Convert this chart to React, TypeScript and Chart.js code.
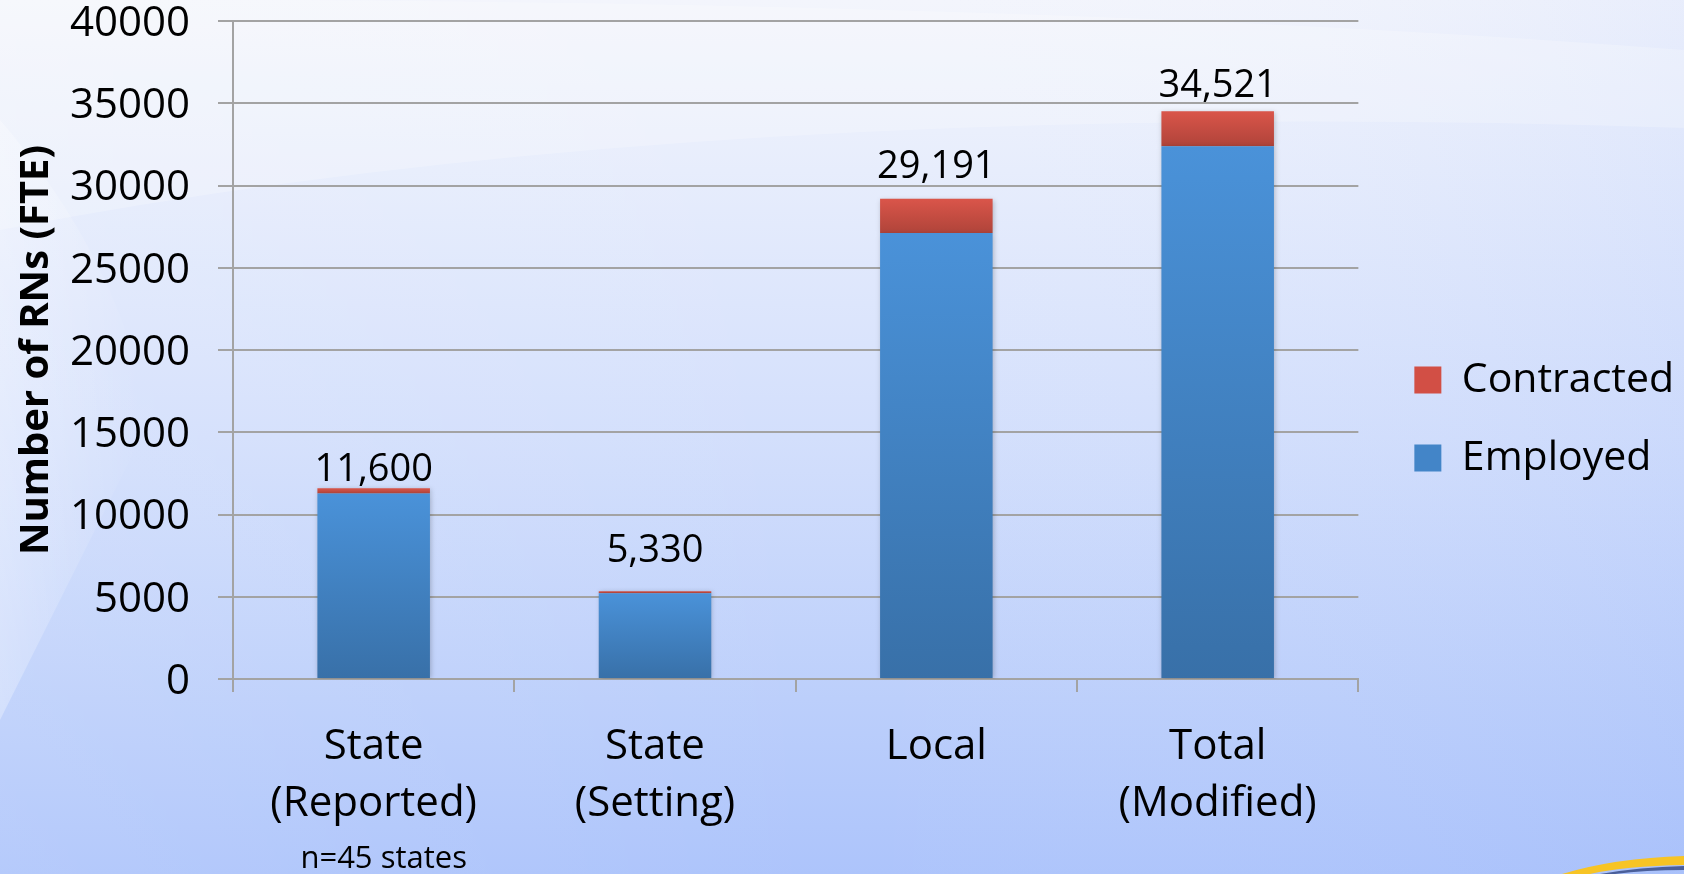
import React, { useEffect, useRef } from 'react';
import { Chart, registerables } from 'chart.js';

Chart.register(...registerables);

const categories: string[][] = [
  ['State', '(Reported)'],
  ['State', '(Setting)'],
  ['Local'],
  ['Total', '(Modified)'],
];
const employed = [11270, 5210, 27120, 32390];
const contracted = [330, 120, 2071, 2131];
const totalLabels = ['11,600', '5,330', '29,191', '34,521'];
const seriesNames = ['Employed', 'Contracted'];
const yMax = 40000;
const yStep = 5000;
const yTitle = 'Number of RNs (FTE)';
const footnote = 'n=45 states';

const W = 1684;
const H = 874;
const FONT = '"Open Sans", "Noto Sans", sans-serif';
const GRID = '#a3a3a3';
const labelGap = [18, 40, 32, 25];

function barGradient(ctx: any, top: string, bottom: string, fallback: string, lo: number[], hi: number[]) {
  const chart = ctx.chart;
  const ys = chart.scales && chart.scales.y;
  if (!chart.chartArea || !ys || ctx.dataIndex === undefined) return fallback;
  const i = ctx.dataIndex;
  const yTop = ys.getPixelForValue(hi[i]);
  const yBot = ys.getPixelForValue(lo[i]);
  if (!isFinite(yTop) || !isFinite(yBot) || yTop === yBot) return fallback;
  const g = chart.ctx.createLinearGradient(0, yTop, 0, yBot);
  g.addColorStop(0, top);
  g.addColorStop(1, bottom);
  return g;
}

const backgroundPlugin = {
  id: 'slideBackground',
  beforeDraw(chart: any) {
    const c = chart.ctx;
    c.save();
    const g = c.createLinearGradient(0, 0, 0, H);
    g.addColorStop(0, '#f3f5fc');
    g.addColorStop(0.15, '#eaeffc');
    g.addColorStop(0.5, '#d3dffc');
    g.addColorStop(0.8, '#bccffb');
    g.addColorStop(1, '#adc4fb');
    c.fillStyle = g;
    c.fillRect(0, 0, W, H);
    // slightly bluer toward the bottom-right
    const hg = c.createLinearGradient(0, 0, W, 0);
    hg.addColorStop(0, 'rgba(255,255,255,0.10)');
    hg.addColorStop(0.5, 'rgba(255,255,255,0)');
    hg.addColorStop(1, 'rgba(140,170,250,0.10)');
    c.fillStyle = hg;
    c.fillRect(0, 0, W, H);
    // light swoosh band near top
    c.fillStyle = 'rgba(255,255,255,0.22)';
    c.beginPath();
    c.moveTo(0, 0);
    c.lineTo(0, 230);
    c.quadraticCurveTo(700, 95, W, 128);
    c.lineTo(W, 50);
    c.quadraticCurveTo(1100, 5, 300, 0);
    c.closePath();
    c.fill();
    // left light wedge
    const lg = c.createLinearGradient(0, 0, 140, 0);
    lg.addColorStop(0, 'rgba(255,255,255,0.30)');
    lg.addColorStop(1, 'rgba(255,255,255,0)');
    c.fillStyle = lg;
    c.beginPath();
    c.moveTo(0, 120);
    c.quadraticCurveTo(120, 260, 150, 420);
    c.lineTo(0, 720);
    c.closePath();
    c.fill();
    // yellow swoosh bottom-right
    c.fillStyle = '#f7c425';
    c.beginPath();
    c.moveTo(1562, H);
    c.quadraticCurveTo(1615, 858, W, 856);
    c.lineTo(W, 865);
    c.quadraticCurveTo(1625, 866, 1590, H);
    c.closePath();
    c.fill();
    c.fillStyle = '#4a5f9a';
    c.beginPath();
    c.moveTo(1600, H);
    c.quadraticCurveTo(1640, 867, W, 866);
    c.lineTo(W, 870);
    c.quadraticCurveTo(1645, 870, 1615, H);
    c.closePath();
    c.fill();
    c.restore();
  },
};

const shadowPlugin = {
  id: 'barShadow',
  beforeDatasetsDraw(chart: any) {
    const c = chart.ctx;
    c.save();
    c.shadowColor = 'rgba(0,0,0,0.22)';
    c.shadowBlur = 5;
    c.shadowOffsetX = 1;
    c.shadowOffsetY = 1;
  },
  afterDatasetsDraw(chart: any) {
    chart.ctx.restore();
  },
};

const labelPlugin = {
  id: 'totalLabels',
  afterDatasetsDraw(chart: any) {
    const c = chart.ctx;
    const meta = chart.getDatasetMeta(1);
    c.save();
    c.fillStyle = '#000';
    c.font = `38px ${FONT}`;
    c.textAlign = 'center';
    c.textBaseline = 'middle';
    meta.data.forEach((bar: any, i: number) => {
      c.fillText(totalLabels[i], bar.x, bar.y - labelGap[i]);
    });
    const xs = chart.scales.x;
    c.font = `31px ${FONT}`;
    c.fillText(footnote, xs.getPixelForValue(0) + 10, 859);
    c.restore();
  },
};

export default function App() {
  const ref = useRef<HTMLCanvasElement | null>(null);

  useEffect(() => {
    let chart: Chart | null = null;
    let cancelled = false;
    const build = () => {
      if (cancelled || !ref.current) return;
      chart = new Chart(ref.current, {
        type: 'bar',
        data: {
          labels: categories,
          datasets: [
            {
              label: seriesNames[0],
              data: employed,
              backgroundColor: (ctx: any) =>
                barGradient(ctx, '#4a92d9', '#3870a8', '#4383c6', employed.map(() => 0), employed),
              borderWidth: 0,
              barPercentage: 0.4,
              categoryPercentage: 1,
            },
            {
              label: seriesNames[1],
              data: contracted,
              backgroundColor: (ctx: any) =>
                barGradient(
                  ctx,
                  '#da554a',
                  '#b0443a',
                  '#d24f45',
                  employed,
                  employed.map((v, i) => v + contracted[i])
                ),
              borderWidth: 0,
              barPercentage: 0.4,
              categoryPercentage: 1,
            },
          ],
        },
        options: {
          responsive: false,
          animation: false,
          events: [],
          layout: { padding: { top: 21, left: 9, right: 0, bottom: 0 } },
          scales: {
            x: {
              stacked: true,
              grid: {
                display: true,
                drawOnChartArea: false,
                drawTicks: true,
                tickLength: 13,
                color: GRID,
                lineWidth: 2,
                offset: true,
              },
              border: { display: true, color: GRID, width: 2 },
              ticks: {
                color: '#000',
                font: { family: FONT, size: 42, lineHeight: 1.36 },
                padding: 26,
                maxRotation: 0,
                autoSkip: false,
              },
              afterFit: (s: any) => {
                s.height = H - 679;
              },
            },
            y: {
              stacked: true,
              min: 0,
              max: yMax,
              grid: { color: GRID, lineWidth: 2, tickLength: 15 },
              border: { display: true, color: GRID, width: 2 },
              ticks: {
                stepSize: yStep,
                color: '#000',
                padding: 28,
                labelOffset: 3,
                font: { family: FONT, size: 42, lineHeight: 1 },
                callback: (v: any) => String(v),
              },
              title: {
                display: true,
                text: yTitle,
                color: '#000',
                font: { family: FONT, size: 40, weight: 'bold' },
                padding: { top: 4, bottom: 4 },
              },
              afterFit: (s: any) => {
                s.width = 224;
                s.paddingTop = 0;
                s.paddingBottom = 0;
              },
            },
            y2: {
              position: 'right',
              display: true,
              grid: { display: false },
              border: { display: false },
              ticks: { display: false },
              afterFit: (s: any) => {
                s.width = 19;
                s.paddingTop = 0;
                s.paddingBottom = 0;
              },
            },
          },
          plugins: {
            tooltip: { enabled: false },
            legend: {
              position: 'right',
              fullSize: false,
              align: 'center',
              maxWidth: 307,
              title: {
                display: true,
                text: ' ',
                font: { family: FONT, size: 10, lineHeight: 1 },
                padding: { top: 128, bottom: 0 },
              },
              labels: {
                boxWidth: 27,
                boxHeight: 27,
                padding: 37,
                color: '#000',
                font: { family: FONT, size: 41 },
                generateLabels: () => [
                  {
                    text: seriesNames[1],
                    fillStyle: '#d24f45',
                    strokeStyle: 'rgba(0,0,0,0)',
                    fontColor: '#000',
                    lineWidth: 0,
                    hidden: false,
                    datasetIndex: 1,
                  },
                  {
                    text: seriesNames[0],
                    fillStyle: '#4385c8',
                    strokeStyle: 'rgba(0,0,0,0)',
                    fontColor: '#000',
                    lineWidth: 0,
                    hidden: false,
                    datasetIndex: 0,
                  },
                ],
              },
            },
          },
        } as any,
        plugins: [backgroundPlugin, shadowPlugin, labelPlugin],
      });
    };
    const fontsReady = (document as any).fonts
      ? Promise.all([
          (document as any).fonts.load(`40px "Open Sans"`),
          (document as any).fonts.load(`bold 40px "Open Sans"`),
        ]).catch(() => null)
      : Promise.resolve(null);
    fontsReady.then(build);
    return () => {
      cancelled = true;
      if (chart) chart.destroy();
    };
  }, []);

  return (
    <div style={{ position: 'fixed', left: 0, top: 0, width: W, height: H }}>
      <canvas ref={ref} width={W} height={H} style={{ display: 'block', width: W, height: H }} />
    </div>
  );
}
